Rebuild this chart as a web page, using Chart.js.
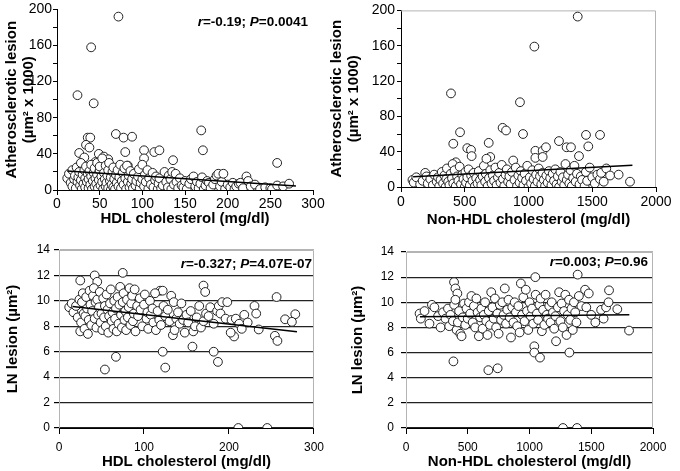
<!DOCTYPE html>
<html>
<head>
<meta charset="utf-8">
<script src="https://cdn.jsdelivr.net/npm/chart.js@4.4.0/dist/chart.umd.min.js"></script>
<style>
  body { margin: 0; background: #fff; width: 680px; height: 471px; position: relative; overflow: hidden; }
  canvas { position: absolute; }
</style>
</head>
<body>
<canvas id="c1" width="330" height="235" style="left:0;top:0"></canvas>
<canvas id="c2" width="355" height="235" style="left:325px;top:0"></canvas>
<canvas id="c3" width="330" height="236" style="left:0;top:235px"></canvas>
<canvas id="c4" width="355" height="236" style="left:325px;top:235px"></canvas>
<script>
// atherosclerotic lesion (um2 x 1000) vs HDL cholesterol
const athHdl = [
  [72,192],[40,158],[24,105],[43,96],[69,62],[78,58],[88,59],[169,66],[171,44],[80,42],
  [36,58],[39,58],[34,50],[38,47],[26,41],[49,40],[55,37],[60,34],[114,42],[120,44],[102,44],
  [136,33],[258,30],[102,35],[32,36],[45,31],[83,27],[30,24],
  [12,13],[14,18],[16,8],[18,22],[18,4],[20,12],[21,16],[22,2],[23,25],[24,9],[25,14],[26,20],
  [27,5],[28,30],[28,11],[29,1],[30,17],[31,7],[32,22],[33,3],[33,13],[34,26],[35,9],[36,18],
  [37,2],[37,12],[38,21],[39,6],[40,15],[40,28],[41,1],[42,10],[43,19],[44,4],[44,24],[45,13],
  [46,7],[47,30],[47,17],[48,2],[49,11],[50,22],[50,26],[51,5],[52,15],[53,9],[53,35],[54,1],
  [55,19],[56,12],[57,27],[57,4],[58,8],[59,16],[60,22],[60,2],[61,30],[62,10],[63,0],[63,14],
  [64,6],[65,20],[66,3],[66,25],[67,12],[68,1],[69,17],[70,8],[71,22],[72,4],[73,14],[74,28],
  [75,2],[76,10],[77,19],[78,6],[79,24],[80,13],[81,1],[82,27],[83,9],[84,16],[85,3],[86,21],
  [87,7],[88,12],[89,2],[90,18],[92,5],[93,10],[95,15],[96,23],[97,2],[98,8],[100,12],[100,28],
  [102,4],[103,17],[104,9],[106,22],[107,1],[108,13],[110,6],[112,19],[113,3],[115,11],[116,15],
  [118,1],[119,7],[120,13],[122,2],[124,5],[126,20],[128,9],[130,3],[131,16],[133,12],[134,1],
  [135,20],[137,6],[139,18],[140,9],[142,2],[144,13],[146,5],[148,3],[150,10],[152,1],[155,7],
  [157,12],[160,15],[162,4],[164,9],[166,2],[168,7],[170,14],[172,1],[174,5],[176,10],[178,8],
  [180,2],[183,6],[185,12],[187,16],[189,18],[191,4],[193,9],[195,18],[197,1],[200,6],[203,3],
  [206,8],[208,1],[210,4],[213,7],[215,8],[218,2],[222,15],[224,10],[227,4],[232,6],[238,1],
  [244,3],[250,2],[252,1],[258,5],[265,4],[272,7]
];

// atherosclerotic lesion vs non-HDL cholesterol
const athNonHdl = [
  [1386,193],[1046,159],[392,106],[933,96],[463,62],[797,67],[824,64],[957,60],[1239,52],
  [1451,59],[1561,59],[410,49],[520,44],[549,42],[554,35],[688,50],[1054,41],[1111,41],[1137,45],
  [1299,45],[1333,45],[1469,46],[1054,33],[1111,34],[700,34],[1396,35],[430,28],
  [90,8],[100,5],[120,11],[150,3],[170,7],[190,16],[200,12],[210,4],[230,9],[250,2],[260,14],
  [280,6],[290,11],[300,1],[310,8],[320,17],[330,4],[340,13],[350,0],[355,9],[360,21],[370,6],
  [380,2],[390,15],[400,10],[405,26],[410,4],[420,19],[430,1],[440,12],[450,7],[460,23],[470,3],
  [480,14],[490,9],[500,0],[505,17],[510,5],[520,11],[530,20],[540,2],[550,13],[560,7],[570,16],
  [580,1],[590,10],[600,4],[610,18],[620,8],[630,2],[640,12],[650,24],[660,6],[665,15],[670,32],
  [680,1],[690,10],[700,19],[710,4],[720,13],[730,7],[740,22],[750,2],[760,11],[770,16],[780,5],
  [790,25],[800,9],[810,1],[820,14],[830,20],[840,6],[850,12],[860,3],[870,17],[880,30],[890,8],
  [900,22],[910,1],[920,13],[930,5],[940,18],[950,10],[960,2],[970,15],[980,7],[990,24],[1000,0],
  [1010,11],[1020,4],[1030,19],[1040,9],[1050,1],[1060,14],[1070,6],[1080,21],[1090,12],[1100,3],
  [1110,16],[1120,8],[1130,1],[1140,13],[1150,5],[1160,18],[1170,10],[1180,2],[1190,15],[1200,7],
  [1210,20],[1220,3],[1230,12],[1240,0],[1250,17],[1260,6],[1270,11],[1280,2],[1290,26],[1300,8],
  [1310,14],[1320,4],[1330,19],[1340,1],[1350,10],[1360,24],[1370,6],[1380,15],[1400,3],[1410,12],
  [1420,8],[1440,1],[1450,17],[1460,7],[1480,22],[1500,11],[1520,4],[1540,14],[1560,9],[1570,16],
  [1590,6],[1610,21],[1640,13],[1707,14],[1796,6]
];

// LN lesion (um2) vs HDL cholesterol
const lnHdl = [
  [75,12.2],[42,12.0],[25,11.6],[45,11.5],[170,11.2],[172,10.7],[119,10.8],[122,10.8],[256,10.3],
  [54,4.6],[67,5.6],[122,6.0],[125,4.75],[157,6.4],[182,6.0],[187,5.2],[211,0],[245,0],
  [266,8.55],[278,8.95],[274,8.35],[254,7.25],[257,6.85],[206,7.2],[202,7.5],
  [12,9.5],[15,9.8],[17,9.1],[20,9.6],[22,8.7],[24,10.1],[25,7.6],[26,8.3],[27,9.9],[28,10.6],
  [29,9.0],[30,7.8],[31,8.8],[32,10.3],[33,9.4],[34,7.4],[35,8.5],[36,10.8],[37,9.7],[38,8.1],
  [39,9.2],[40,10.4],[41,11.0],[42,8.6],[43,9.9],[44,7.9],[45,10.1],[46,8.9],[47,9.5],[48,10.7],
  [49,8.3],[50,9.0],[51,7.7],[52,10.2],[53,8.7],[54,9.6],[55,8.0],[56,10.5],[57,9.3],[58,7.5],
  [59,8.8],[60,9.8],[61,10.9],[62,8.4],[63,9.1],[64,7.8],[65,10.0],[66,8.6],[67,9.4],[68,7.6],
  [69,10.3],[70,8.2],[71,9.7],[72,11.1],[73,8.9],[74,7.9],[75,9.9],[76,10.6],[77,8.5],[78,9.2],
  [79,7.7],[80,10.1],[81,8.7],[82,9.5],[83,11.0],[84,8.1],[85,9.8],[86,10.4],[87,8.4],[88,9.0],
  [89,10.9],[90,7.6],[92,9.6],[93,8.8],[95,10.2],[96,9.3],[98,8.0],[100,9.7],[101,10.5],[103,8.6],
  [104,9.1],[105,7.8],[107,10.0],[108,8.9],[110,9.4],[111,8.3],[113,10.6],[114,7.7],[116,9.2],
  [118,8.5],[120,8.1],[123,9.6],[125,8.8],[128,9.3],[130,8.4],[132,10.4],[134,7.3],[135,9.9],
  [136,7.7],[138,8.6],[140,9.1],[142,8.2],[144,9.8],[146,8.5],[148,7.5],[150,8.9],[152,8.3],
  [155,9.2],[158,7.6],[160,8.0],[162,8.7],[165,9.6],[167,7.9],[170,8.4],[173,9.0],[176,8.8],
  [178,9.5],[182,8.2],[186,9.2],[188,9.6],[190,9.0],[192,9.9],[196,8.6],[198,9.9],[203,8.5],
  [208,8.6],[212,8.2],[215,7.8],[218,8.9],[222,8.3],[230,9.6],[232,9.0],[235,7.75]
];

// LN lesion vs non-HDL cholesterol
const lnNonHdl = [
  [1390,12.2],[1047,12.0],[389,11.6],[400,11.1],[416,10.7],[667,4.6],[742,4.75],[384,5.3],
  [1039,6.5],[1039,6.0],[1085,5.6],[1323,6.0],[1215,6.9],[1806,7.75],[1711,9.45],[1644,10.95],
  [1271,0],[1385,0],[1533,8.4],
  [110,9.1],[120,8.7],[150,9.3],[190,8.3],[210,9.8],[230,9.6],[260,8.9],[280,8.0],[300,9.2],
  [320,8.7],[340,9.5],[350,8.1],[360,9.0],[380,8.5],[390,9.8],[400,10.2],[410,7.8],[420,8.4],
  [430,9.3],[440,7.5],[450,7.3],[460,8.8],[470,9.9],[480,8.2],[490,9.5],[500,8.7],[510,10.0],
  [520,9.1],[530,10.5],[540,8.4],[550,9.7],[560,8.0],[570,10.3],[580,9.2],[590,7.3],[600,8.8],
  [610,9.5],[620,7.9],[630,9.0],[640,10.0],[650,8.5],[660,7.4],[670,9.3],[680,8.2],[690,10.8],
  [700,9.6],[710,8.7],[720,10.3],[730,8.0],[740,9.1],[750,7.5],[760,9.8],[770,8.6],[780,10.0],
  [790,9.0],[800,11.1],[810,8.3],[820,9.4],[830,10.2],[840,8.8],[850,7.2],[860,9.6],[870,8.4],
  [880,10.0],[890,9.2],[900,8.1],[910,9.7],[920,7.6],[930,11.5],[940,9.0],[950,10.4],[960,8.5],
  [970,11.0],[980,9.3],[990,7.8],[1000,10.0],[1010,8.9],[1020,9.5],[1030,8.3],[1050,10.6],
  [1060,9.1],[1070,8.6],[1080,9.8],[1090,10.3],[1100,7.7],[1110,9.4],[1120,8.2],[1130,10.6],
  [1140,9.0],[1150,8.7],[1160,9.7],[1170,8.4],[1180,10.0],[1190,9.2],[1200,7.9],[1210,8.9],
  [1230,9.6],[1240,10.8],[1250,8.5],[1260,9.9],[1270,8.0],[1280,9.3],[1290,10.6],[1300,7.4],
  [1310,9.0],[1320,10.2],[1330,8.6],[1340,9.5],[1350,7.8],[1360,10.0],[1370,9.2],[1380,8.4],
  [1400,10.5],[1420,9.7],[1450,11.0],[1460,9.6],[1480,10.7],[1500,9.0],[1580,9.4],[1600,8.7],
  [1620,9.6],[1640,10.0]
];

// regression lines (end points)
const trendAthHdl = [[12,21],[280,4.5]];
const trendAthNonHdl = [[95,11.5],[1815,24.5]];
const trendLnHdl = [[16,9.55],[280,7.57]];
const trendLnNonHdl = [[113,8.85],[1808,9.0]];

const statAthHdl = [['r', true], ['=-0.19; ', false], ['P', true], ['=0.0041', false]];
const statAthNonHdl = [['r', true], ['=0.12; ', false], ['P', true], ['=0.063', false]];
const statLnHdl = [['r', true], ['=-0.327; ', false], ['P', true], ['=4.07E-07', false]];
const statLnNonHdl = [['r', true], ['=0.003; ', false], ['P', true], ['=0.96', false]];

const FONT = "'Liberation Sans', Arial, sans-serif";
const GRAY = '#b4b4b4';

function toXY(list) {
  return list.map(p => ({ x: p[0], y: p[1] }));
}

function extrasPlugin(opts) {
  return {
    id: 'extras',
    beforeDatasetsDraw(chart) {
      const a = chart.chartArea, ctx = chart.ctx;
      if (!opts.box) return;
      ctx.save();
      ctx.strokeStyle = GRAY;
      ctx.lineWidth = 1;
      ctx.beginPath();
      ctx.moveTo(a.left, a.top + 0.5);
      ctx.lineTo(a.right - 0.5, a.top + 0.5);
      ctx.lineTo(a.right - 0.5, a.bottom);
      ctx.stroke();
      ctx.restore();
    },
    afterDraw(chart) {
      const ctx = chart.ctx;
      ctx.save();
      ctx.fillStyle = '#000';
      ctx.textBaseline = 'middle';
      const fontOf = it => (it ? 'italic bold ' : 'bold ') + opts.statSize + 'px ' + FONT;
      let total = 0;
      opts.stat.forEach(s => { ctx.font = fontOf(s[1]); total += ctx.measureText(s[0]).width; });
      let x = opts.statAlign === 'right' ? opts.statX - total : opts.statX;
      opts.stat.forEach(s => {
        ctx.font = fontOf(s[1]);
        ctx.fillText(s[0], x, opts.statY);
        x += ctx.measureText(s[0]).width;
      });
      ctx.restore();
    }
  };
}

function makePanel(id, o) {
  const ctx = document.getElementById(id).getContext('2d');
  return new Chart(ctx, {
    type: 'scatter',
    data: {
      datasets: [
        {
          data: toXY(o.trend),
          showLine: true,
          borderColor: '#000',
          borderWidth: 1.5,
          pointRadius: 0,
          order: 0
        },
        {
          data: toXY(o.points),
          pointRadius: 4.4,
          pointBackgroundColor: '#fff',
          pointBorderColor: '#222',
          pointBorderWidth: 1,
          order: 1
        }
      ]
    },
    options: {
      responsive: false,
      animation: false,
      events: [],
      layout: { padding: o.padding },
      plugins: { legend: { display: false }, tooltip: { enabled: false } },
      scales: {
        x: {
          type: 'linear',
          min: 0, max: o.xMax,
          afterFit: s => { s.height = o.xHeight; },
          ticks: {
            stepSize: o.xStep, color: '#000', font: { family: FONT, size: o.tickSize }, padding: o.xPad,
            maxRotation: 0, autoSkip: false, callback: v => String(v)
          },
          grid: { drawOnChartArea: false, tickLength: o.xTickLen, tickColor: '#000' },
          border: { color: '#000', width: 1 },
          title: { display: true, text: o.xTitle, color: '#000', font: { family: FONT, size: 15, weight: 'bold' }, padding: { top: 0, bottom: o.xTitlePad } }
        },
        y: {
          type: 'linear',
          min: 0, max: o.yMax,
          afterFit: s => { s.width = o.yWidth; },
          ticks: {
            stepSize: o.yStep, color: '#000', font: { family: FONT, size: o.tickSize }, padding: o.yPad, autoSkip: false,
            callback: v => (v % o.yLabelStep === 0 ? String(v) : '')
          },
          grid: o.gridLines
            ? { drawOnChartArea: true, tickLength: 5, tickColor: '#000', lineWidth: 1.2,
                color: c => (c.tick && c.tick.value === o.yMax ? GRAY : '#222') }
            : { drawOnChartArea: false, tickLength: 4, tickColor: '#000' },
          border: { color: o.gridLines ? GRAY : '#000', width: 1 },
          title: { display: true, text: o.yTitle, color: '#000', font: { family: FONT, size: 15, weight: 'bold', lineHeight: 1.15 }, padding: { top: o.yTitlePad, bottom: 0 } }
        }
      }
    },
    plugins: [extrasPlugin(o)]
  });
}

makePanel('c1', {
  points: athHdl, trend: trendAthHdl, stat: statAthHdl,
  statX: 308, statY: 22, statAlign: 'right', statSize: 13.5, box: false,
  padding: { left: 0, top: 8, right: 17, bottom: 0 },
  xMax: 300, xStep: 50, yMax: 200, yStep: 20, yLabelStep: 40,
  xHeight: 45, yWidth: 57, tickSize: 14, xPad: 1, yPad: 1, xTickLen: 5,
  xTitle: 'HDL cholesterol (mg/dl)', xTitlePad: 7,
  yTitle: ['Atherosclerotic lesion', '(µm² x 1000)'], yTitlePad: 3, gridLines: false
});

makePanel('c2', {
  points: athNonHdl, trend: trendAthNonHdl, stat: statAthNonHdl,
  statX: 420, statY: 15, statAlign: 'left', statSize: 13.5, box: true,
  padding: { left: 0, top: 3, right: 24, bottom: 0 },
  xMax: 2000, xStep: 500, yMax: 200, yStep: 20, yLabelStep: 40,
  xHeight: 48, yWidth: 76, tickSize: 14, xPad: 2, yPad: 2, xTickLen: 5,
  xTitle: 'Non-HDL cholesterol (mg/dl)', xTitlePad: 6,
  yTitle: ['Atherosclerotic lesion', '(µm² x 1000)'], yTitlePad: 3, gridLines: false
});

makePanel('c3', {
  points: lnHdl, trend: trendLnHdl, stat: statLnHdl,
  statX: 312, statY: 29, statAlign: 'right', statSize: 13.5, box: true,
  padding: { left: 0, top: 15, right: 15, bottom: 0 },
  xMax: 300, xStep: 100, yMax: 14, yStep: 2, yLabelStep: 2,
  xHeight: 43, yWidth: 59, tickSize: 12, xPad: 6, yPad: 4, xTickLen: 6,
  xTitle: 'HDL cholesterol (mg/dl)', xTitlePad: 0,
  yTitle: 'LN lesion (µm²)', yTitlePad: 4, gridLines: true
});

makePanel('c4', {
  points: lnNonHdl, trend: trendLnNonHdl, stat: statLnNonHdl,
  statX: 323, statY: 27, statAlign: 'right', statSize: 13.5, box: true,
  padding: { left: 0, top: 17, right: 27, bottom: 0 },
  xMax: 2000, xStep: 500, yMax: 14, yStep: 2, yLabelStep: 2,
  xHeight: 43, yWidth: 81, tickSize: 12, xPad: 6, yPad: 7, xTickLen: 6,
  xTitle: 'Non-HDL cholesterol (mg/dl)', xTitlePad: 0,
  yTitle: 'LN lesion (µm²)', yTitlePad: 24, gridLines: true
});
</script>
</body>
</html>
